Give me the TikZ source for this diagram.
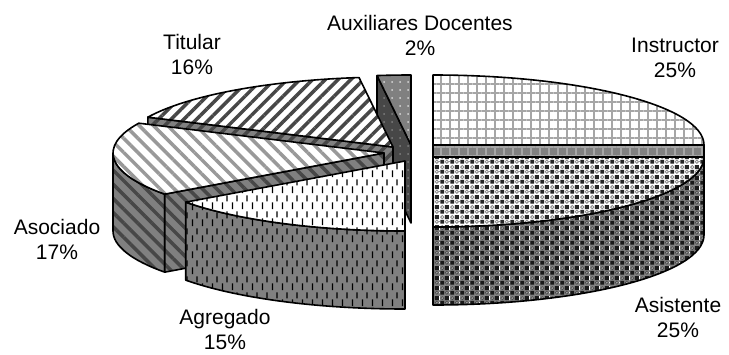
\documentclass[tikz,border=0pt]{standalone}
\usepackage{fontspec}
\setmainfont{Liberation Sans}
\usetikzlibrary{patterns,patterns.meta}
\def\piex{271}
\def\piey{70}
\def\pieh{78}

\pgfdeclarepatterninherentlycolored{spheretop}{\pgfpointorigin}{\pgfpoint{10pt}{10pt}}{\pgfpoint{10pt}{10pt}}{
	\pgfsetfillcolor{black!85}
	\pgfpathrectangle{\pgfpoint{0.4pt}{0.4pt}}{\pgfpoint{4.2pt}{4.2pt}}
	\pgfpathrectangle{\pgfpoint{5.4pt}{5.4pt}}{\pgfpoint{4.2pt}{4.2pt}}
	\pgfusepath{fill}
	\pgfsetstrokecolor{black!45}\pgfsetlinewidth{0.9pt}
	\pgfpathcircle{\pgfpoint{7.5pt}{2.5pt}}{1.8pt}
	\pgfpathcircle{\pgfpoint{2.5pt}{7.5pt}}{1.8pt}
	\pgfusepath{stroke}
}
\pgfdeclarepatterninherentlycolored{sphereside}{\pgfpointorigin}{\pgfpoint{10pt}{10pt}}{\pgfpoint{10pt}{10pt}}{
	\pgfsetfillcolor{black!90}
	\pgfpathrectangle{\pgfpoint{0.4pt}{0.4pt}}{\pgfpoint{4.2pt}{4.2pt}}
	\pgfpathrectangle{\pgfpoint{5.4pt}{5.4pt}}{\pgfpoint{4.2pt}{4.2pt}}
	\pgfusepath{fill}
	\pgfsetfillcolor{black!38}\pgfsetstrokecolor{black!70}\pgfsetlinewidth{0.7pt}
	\pgfpathcircle{\pgfpoint{7.5pt}{2.5pt}}{1.8pt}
	\pgfpathcircle{\pgfpoint{2.5pt}{7.5pt}}{1.8pt}
	\pgfusepath{fill,stroke}
}
\pgfdeclarepatternformonly{vdashes}{\pgfpointorigin}{\pgfpoint{10pt}{16pt}}{\pgfpoint{10pt}{16pt}}{
	\pgfpathrectangle{\pgfpoint{2pt}{1pt}}{\pgfpoint{1.4pt}{7pt}}
	\pgfpathrectangle{\pgfpoint{7pt}{9pt}}{\pgfpoint{1.4pt}{6.5pt}}
	\pgfusepath{fill}
}

\tikzset{
	slice/.style={draw=black, line width=1.6pt, line join=round},
	lbl/.style={font=\fontsize{21}{25}\selectfont, align=center, inner sep=0pt},
	insttop/.style={slice, preaction={fill=white}, pattern={Hatch[angle=0,distance=9pt,line width=1.6pt]}, pattern color=black!35},
	instside/.style={slice, preaction={fill=black!50}, pattern={Hatch[angle=0,distance=9pt,line width=1.6pt]}, pattern color=black!35},
	asisttop/.style={slice, preaction={fill=white}, pattern=spheretop},
	asistside/.style={slice, preaction={fill=black!50}, pattern=sphereside},
	agrtop/.style={slice, preaction={fill=white}, pattern=vdashes, pattern color=black},
	agrside/.style={slice, preaction={fill=black!50}, pattern=vdashes, pattern color=black},
	asoctop/.style={slice, preaction={fill=white}, pattern={Lines[angle=-45,distance=10pt,line width=3.5pt]}, pattern color=black!40},
	asocside/.style={slice, preaction={fill=black!50}, pattern={Lines[angle=-45,distance=10pt,line width=3.5pt]}, pattern color=black!72},
	tittop/.style={slice, preaction={fill=white}, pattern={Lines[angle=45,distance=9pt,line width=3.5pt]}, pattern color=black!72},
	titside/.style={slice, preaction={fill=black!50}, pattern={Lines[angle=45,distance=9pt,line width=3.5pt]}, pattern color=black!72},
	auxtop/.style={slice, preaction={fill=black!50}, pattern={Dots[radius=1pt,distance=8pt]}, pattern color=black!15},
	auxside/.style={slice, preaction={fill=black!72}, pattern={Dots[radius=1pt,distance=8pt]}, pattern color=black!50},
}

\begin{document}
\begin{tikzpicture}[x=1pt, y=-1pt]
	%%%%% START %%%%%
	\useasboundingbox (0, 0) rectangle (729, 354);
	
	% Auxiliares Docentes
	\draw[auxside] (411, 145) -- ({411+\piex*sin(352.8)}, {145-\piey*cos(352.8)}) -- ++(0, \pieh) -- (411, {145+\pieh}) -- cycle;
	\draw[auxtop] (411, 145) -- ({411+\piex*sin(352.8)}, {145-\piey*cos(352.8)}) arc[start angle=262.8, end angle=270, x radius=\piex, y radius=\piey] -- cycle;
	
	% Titular
	\draw[titside] (393, 147) -- ({393+\piex*sin(295.2)}, {147-\piey*cos(295.2)}) -- ++(0, \pieh) -- (393, {147+\pieh}) -- cycle;
	\draw[tittop] (393, 147) -- ({393+\piex*sin(295.2)}, {147-\piey*cos(295.2)}) arc[start angle=205.2, end angle=262.8, x radius=\piex, y radius=\piey] -- cycle;
	
	% Instructor
	\draw[instside] (433, 145) -- ({433+\piex}, 145) -- ++(0, \pieh) -- (433, {145+\pieh}) -- cycle;
	\draw[insttop] (433, 145) -- (433, {145-\piey}) arc[start angle=-90, end angle=0, x radius=\piex, y radius=\piey] -- cycle;
	
	% Asociado
	\draw[asocside] ({384+\piex*sin(234)}, {153-\piey*cos(234)}) arc[start angle=144, end angle=180, x radius=\piex, y radius=\piey] -- ++(0, \pieh) arc[start angle=180, end angle=144, x radius=\piex, y radius=\piey] -- cycle;
	\draw[asocside] (384, 153) -- ({384+\piex*sin(234)}, {153-\piey*cos(234)}) -- ++(0, \pieh) -- (384, {153+\pieh}) -- cycle;
	\draw[asoctop] (384, 153) -- ({384+\piex*sin(234)}, {153-\piey*cos(234)}) arc[start angle=144, end angle=205.2, x radius=\piex, y radius=\piey] -- cycle;
	
	% Asistente
	\draw[asistside] ({433+\piex}, 157) arc[start angle=0, end angle=90, x radius=\piex, y radius=\piey] -- ++(0, \pieh) arc[start angle=90, end angle=0, x radius=\piex, y radius=\piey] -- cycle;
	\draw[asisttop] (433, 157) -- ({433+\piex}, 157) arc[start angle=0, end angle=90, x radius=\piex, y radius=\piey] -- cycle;
	
	% Agregado
	\draw[agrside] (405, {161+\piey}) arc[start angle=90, end angle=144, x radius=\piex, y radius=\piey] -- ++(0, \pieh) arc[start angle=144, end angle=90, x radius=\piex, y radius=\piey] -- cycle;
	\draw[agrtop] (405, 161) -- (405, {161+\piey}) arc[start angle=90, end angle=144, x radius=\piex, y radius=\piey] -- cycle;
	
	% labels
	\node[lbl] (aux) at (420, 35) {Auxiliares Docentes\\2\%};
	\node[lbl] (instructor) at (675, 58) {Instructor\\25\%};
	\node[lbl] (titular) at (192, 54) {Titular\\16\%};
	\node[lbl] (asociado) at (57, 239) {Asociado\\17\%};
	\node[lbl] (agregado) at (225, 329) {Agregado\\15\%};
	\node[lbl] (asistente) at (678, 317) {Asistente\\25\%};
	
	%%%%% END %%%%%
\end{tikzpicture}
\end{document}
